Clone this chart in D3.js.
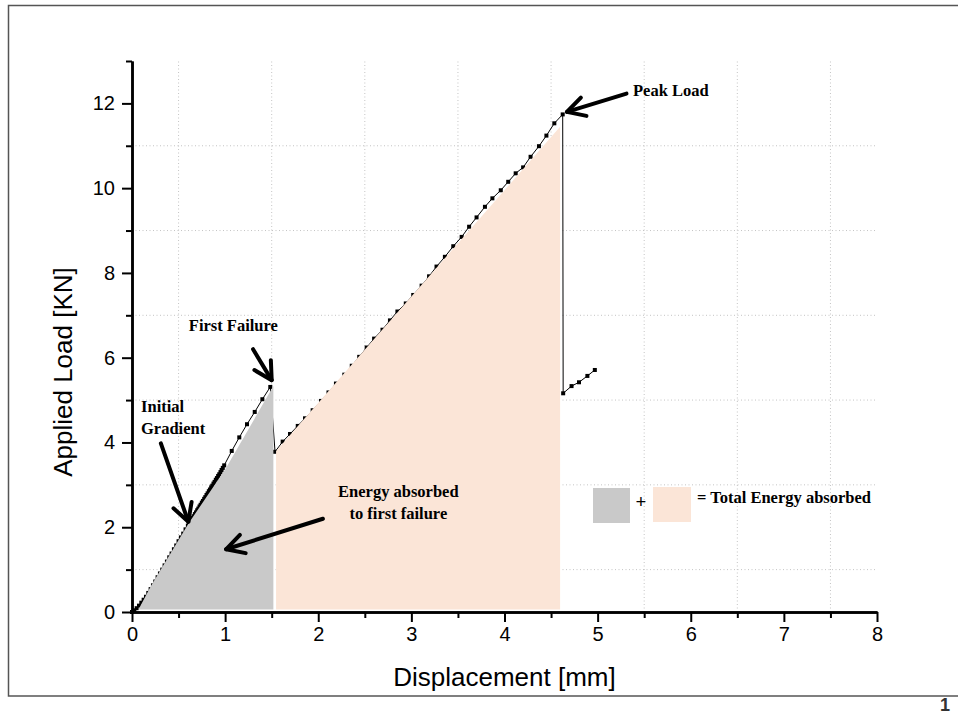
<!DOCTYPE html>
<html>
<head>
<meta charset="utf-8">
<script src="https://cdn.jsdelivr.net/npm/d3@7"></script>
<style>
body { margin: 0; background: #fff; }
svg { display: block; }
.axis text { font-family: "Liberation Sans", Arial, sans-serif; font-size: 20px; fill: #000; }
.axis path, .axis line { stroke: #000; }
.title { font-family: "Liberation Sans", Arial, sans-serif; font-size: 26px; fill: #000; }
.note { font-family: "Palatino Linotype", "Book Antiqua", Palatino, "Liberation Serif", serif; font-weight: bold; font-size: 16.5px; fill: #000; }
</style>
</head>
<body>
<div id="container"></div>
<script>
const WIDTH = 958;
const HEIGHT = 716;
const X_LEFT = 132, X_RIGHT = 877;
const Y_BOTTOM = 612, Y_TOP = 61;

// load-displacement record
var toFirstFailure = [[0, 0], [0.025, 0.04], [0.05, 0.09], [0.075, 0.15], [0.1, 0.22], [0.125, 0.29],
    [0.15, 0.36], [0.175, 0.45], [0.2, 0.54], [0.225, 0.63], [0.25, 0.72], [0.275, 0.82], [0.3, 0.91],
    [0.325, 1.0], [0.35, 1.1], [0.375, 1.19], [0.4, 1.29], [0.425, 1.38], [0.45, 1.48], [0.475, 1.57],
    [0.5, 1.67], [0.525, 1.76], [0.55, 1.85], [0.575, 1.95], [0.6, 2.04], [0.612, 2.08], [0.625, 2.13],
    [0.637, 2.17], [0.65, 2.22], [0.662, 2.26], [0.675, 2.31], [0.687, 2.35], [0.7, 2.4], [0.712, 2.44],
    [0.725, 2.49], [0.737, 2.53], [0.75, 2.58], [0.762, 2.62], [0.775, 2.67], [0.787, 2.71], [0.8, 2.76],
    [0.812, 2.8], [0.825, 2.85], [0.837, 2.89], [0.85, 2.94], [0.862, 2.98], [0.875, 3.03], [0.887, 3.07],
    [0.9, 3.12], [0.912, 3.16], [0.925, 3.21], [0.937, 3.25], [0.95, 3.3], [0.962, 3.35], [0.975, 3.4],
    [0.99, 3.46], [1.071, 3.8], [1.152, 4.12], [1.235, 4.43], [1.318, 4.72], [1.4, 5.02], [1.485, 5.31]];
var toPeak = [[1.536, 3.78], [1.618, 4.02], [1.697, 4.2], [1.78, 4.39], [1.858, 4.57], [1.94, 4.76],
    [2.03, 4.98], [2.11, 5.18], [2.19, 5.39], [2.28, 5.6], [2.36, 5.81], [2.44, 6.02], [2.52, 6.24],
    [2.6, 6.45], [2.69, 6.66], [2.77, 6.88], [2.85, 7.09], [2.94, 7.28], [3.02, 7.48], [3.11, 7.7],
    [3.19, 7.92], [3.27, 8.15], [3.36, 8.38], [3.45, 8.63], [3.54, 8.85], [3.62, 9.09], [3.7, 9.31],
    [3.79, 9.56], [3.87, 9.76], [3.96, 9.95], [4.04, 10.15], [4.12, 10.35], [4.2, 10.49], [4.28, 10.74],
    [4.37, 10.99], [4.45, 11.24], [4.535, 11.53], [4.625, 11.74]];
var afterPeak = [[4.63, 5.16], [4.72, 5.33], [4.8, 5.42], [4.89, 5.57], [4.97, 5.71]];

// shaded energy areas
var energyFirst = [[0.07, 0.06], [0.2, 0.6], [0.61, 2.1], [1.0, 3.36], [1.518, 5.33], [1.518, 0.06]];
var energyRest = [[1.547, 0.06], [1.547, 3.8], [4.597, 11.45], [4.597, 0.06]];

var xTicks = [0, 1, 2, 3, 4, 5, 6, 7, 8];
var xMinor = [0.5, 1.5, 2.5, 3.5, 4.5, 5.5, 6.5, 7.5];
var yTicks = [0, 2, 4, 6, 8, 10, 12];
var yMinor = [1, 3, 5, 7, 9, 11, 13];
var yGrid = [1, 3, 5, 7, 9, 11];

var notes = [
    {text: "Peak Load", x: 5.38, y: 12.18, anchor: "start"},
    {text: "First Failure", x: 0.61, y: 6.63, anchor: "start"},
    {text: "Initial", x: 0.097, y: 4.71, anchor: "start"},
    {text: "Gradient", x: 0.097, y: 4.21, anchor: "start"},
    {text: "Energy absorbed", x: 2.86, y: 2.71, anchor: "middle"},
    {text: "to first failure", x: 2.86, y: 2.19, anchor: "middle"}
];
var arrows = [
    {from: [5.31, 12.23], to: [4.67, 11.8]},
    {from: [1.30, 6.20], to: [1.50, 5.47]},
    {from: [0.31, 3.98], to: [0.605, 2.13]},
    {from: [2.05, 2.2], to: [1.01, 1.48]}
];

var COL_GREY = "#c9c9c9";
var COL_PEACH = "#fbe5d7";

var XScale = d3.scaleLinear().domain([0, 8]).range([X_LEFT, X_RIGHT]);
var YScale = d3.scaleLinear().domain([0, 13]).range([Y_BOTTOM, Y_TOP]);

var line = d3.line()
    .x(function (d) { return XScale(d[0]); })
    .y(function (d) { return YScale(d[1]); });

var svg = d3.select("#container").append("svg")
    .attr("width", WIDTH)
    .attr("height", HEIGHT);

// frame
svg.append("path")
    .attr("d", "M" + WIDTH + ",5.5H8.5V696H" + WIDTH)
    .attr("fill", "none")
    .attr("stroke", "#555")
    .attr("stroke-width", 1.5);

// grid at minor ticks
var grid = svg.append("g").attr("stroke", "#c4c4c4").attr("stroke-width", 1).attr("stroke-dasharray", "1,2.5");
grid.selectAll(".gx").data(xMinor).enter().append("line")
    .attr("x1", function (d) { return XScale(d); })
    .attr("x2", function (d) { return XScale(d); })
    .attr("y1", YScale(0))
    .attr("y2", YScale(13));
grid.selectAll(".gy").data(yGrid).enter().append("line")
    .attr("y1", function (d) { return YScale(d); })
    .attr("y2", function (d) { return YScale(d); })
    .attr("x1", XScale(0))
    .attr("x2", XScale(8));

// curve and markers
var curve = toFirstFailure.concat(toPeak, afterPeak);
svg.append("path")
    .datum(curve)
    .attr("d", line)
    .attr("fill", "none")
    .attr("stroke", "#000")
    .attr("stroke-width", 1);
svg.append("g").selectAll("rect").data(curve).enter().append("rect")
    .attr("x", function (d) { return XScale(d[0]) - 2; })
    .attr("y", function (d) { return YScale(d[1]) - 2; })
    .attr("width", 4)
    .attr("height", 4)
    .attr("fill", "#000");

// energy areas drawn over the curve
svg.append("path").datum(energyFirst).attr("d", function (d) { return line(d) + "Z"; }).attr("fill", COL_GREY);
svg.append("path").datum(energyRest).attr("d", function (d) { return line(d) + "Z"; }).attr("fill", COL_PEACH);

// axes
var drawAxis = function (axis, translator) {
    var g = svg.append("g").attr("class", "axis").attr("transform", translator).call(axis);
    g.select(".domain").attr("stroke-width", 2.5);
    g.selectAll(".tick line").attr("stroke-width", 2);
    return g;
};
drawAxis(d3.axisBottom(XScale).tickValues(xMinor).tickFormat("").tickSize(6).tickSizeOuter(0), "translate(0," + Y_BOTTOM + ")");
drawAxis(d3.axisLeft(YScale).tickValues(yMinor).tickFormat("").tickSize(6).tickSizeOuter(0), "translate(" + X_LEFT + ",0)");
drawAxis(d3.axisBottom(XScale).tickValues(xTicks).tickFormat(d3.format("d")).tickSize(10).tickPadding(5).tickSizeOuter(0),
    "translate(0," + Y_BOTTOM + ")");
drawAxis(d3.axisLeft(YScale).tickValues(yTicks).tickFormat(d3.format("d")).tickSize(10).tickPadding(7).tickSizeOuter(0),
    "translate(" + X_LEFT + ",0)");

svg.append("text").attr("class", "title")
    .attr("x", (X_LEFT + X_RIGHT) / 2).attr("y", 686)
    .attr("text-anchor", "middle")
    .text("Displacement [mm]");
svg.append("text").attr("class", "title")
    .attr("transform", "translate(72,372) rotate(-90)")
    .attr("text-anchor", "middle")
    .text("Applied Load [KN]");

// annotations
svg.append("g").selectAll("text").data(notes).enter().append("text")
    .attr("class", "note")
    .attr("x", function (d) { return XScale(d.x); })
    .attr("y", function (d) { return YScale(d.y); })
    .attr("text-anchor", function (d) { return d.anchor; })
    .text(function (d) { return d.text; });

var arrowG = svg.append("g").attr("stroke", "#000").attr("stroke-width", 4).attr("fill", "none")
    .attr("stroke-linecap", "round").attr("stroke-linejoin", "round");
arrows.forEach(function (a) {
    var x1 = XScale(a.from[0]), y1 = YScale(a.from[1]);
    var x2 = XScale(a.to[0]), y2 = YScale(a.to[1]);
    var ang = Math.atan2(y1 - y2, x1 - x2);
    var len = 20, spread = 0.5;
    arrowG.append("path").attr("d", "M" + x1 + "," + y1 + "L" + x2 + "," + y2);
    arrowG.append("path").attr("d",
        "M" + (x2 + len * Math.cos(ang - spread)) + "," + (y2 + len * Math.sin(ang - spread)) +
        "L" + x2 + "," + y2 +
        "L" + (x2 + len * Math.cos(ang + spread)) + "," + (y2 + len * Math.sin(ang + spread)));
});

// legend for the energy sum
var legend = svg.append("g");
legend.append("rect").attr("x", 593).attr("y", 488).attr("width", 37).attr("height", 35).attr("fill", COL_GREY);
legend.append("text").attr("class", "note").attr("x", 641).attr("y", 508)
    .attr("text-anchor", "middle").style("font-size", "19px").text("+");
legend.append("rect").attr("x", 653).attr("y", 487).attr("width", 38).attr("height", 35).attr("fill", COL_PEACH);
legend.append("text").attr("class", "note").attr("x", 697).attr("y", 503).text("= Total Energy absorbed");

// page number
svg.append("text")
    .attr("x", 945).attr("y", 711)
    .attr("text-anchor", "middle")
    .attr("font-family", "Liberation Sans, Arial, sans-serif")
    .attr("font-weight", "bold")
    .attr("font-size", 18)
    .attr("fill", "#333")
    .text("1");
</script>
</body>
</html>
